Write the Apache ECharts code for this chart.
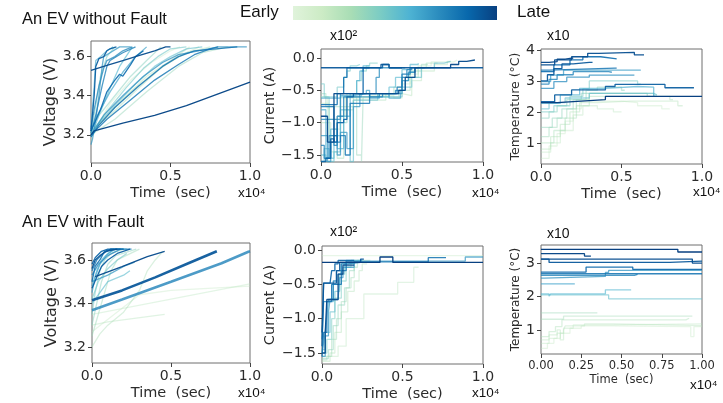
<!DOCTYPE html>
<html>
<head>
<meta charset="utf-8">
<script src="https://cdn.jsdelivr.net/npm/echarts@6/dist/echarts.min.js"></script>
<style>
html, body { margin: 0; padding: 0; background: #fff; }
#chart { width: 723px; height: 403px; }
</style>
</head>
<body>
<div id="chart"></div>
<script>
// units: time in 1e4 s, current in 1e2 A, temperature in 1e1 degC
const timeTicks = [0, 0.5, 1.0];
const timeTicksFine = [0, 0.25, 0.5, 0.75, 1.0];
const voltTicks = [3.2, 3.4, 3.6];
const currTicks = [-1.5, -1.0, -0.5, 0.0];
const tempTicks = [1, 2, 3, 4];
const tempTicksFault = [1, 2, 3];

// age of each curve: 0 = early, 1 = late
const voltNoFaultAge = [0.02, 0.06, 0.1, 0.15, 0.2, 0.25, 0.3, 0.35, 0.4, 0.45, 0.5, 0.55, 0.6, 0.62, 0.66, 0.7, 0.74, 0.78, 0.82, 0.88, 0.94, 0.97];
const voltNoFault = [
  [[0,3.17],[0.04,3.25],[0.12,3.36],[0.25,3.48],[0.38,3.57],[0.5,3.63],[0.56,3.65]],
  [[0,3.22],[0.1,3.30],[0.25,3.42],[0.4,3.52],[0.55,3.60],[0.68,3.65]],
  [[0,3.21],[0.08,3.28],[0.2,3.38],[0.35,3.50],[0.5,3.58],[0.62,3.65]],
  [[0,3.22],[0.12,3.30],[0.3,3.44],[0.45,3.55],[0.6,3.62],[0.75,3.65]],
  [[0,3.20],[0.15,3.28],[0.35,3.42],[0.55,3.55],[0.7,3.62],[0.86,3.65]],
  [[0,3.23],[0.05,3.30],[0.15,3.40],[0.25,3.50],[0.35,3.58],[0.44,3.65]],
  [[0,3.20],[0.03,3.35],[0.06,3.50],[0.1,3.60],[0.15,3.65]],
  [[0,3.21],[0.1,3.32],[0.22,3.44],[0.33,3.54],[0.42,3.60],[0.5,3.64],[0.6,3.65]],
  [[0,3.19],[0.05,3.26],[0.15,3.35],[0.28,3.46],[0.4,3.55],[0.5,3.60],[0.6,3.64],[0.7,3.65]],
  [[0,3.19],[0.05,3.30],[0.12,3.44],[0.18,3.55],[0.22,3.60],[0.26,3.65]],
  [[0,3.24],[0.02,3.45],[0.03,3.58],[0.06,3.60],[0.1,3.63],[0.14,3.65]],
  [[0,3.22],[0.04,3.30],[0.12,3.42],[0.2,3.52],[0.28,3.60],[0.35,3.65]],
  [[0,3.15],[0.01,3.18],[0.03,3.28],[0.05,3.40],[0.07,3.55],[0.08,3.60],[0.12,3.62],[0.18,3.65],[0.25,3.65]],
  [[0,3.20],[0.08,3.30],[0.2,3.40],[0.33,3.50],[0.45,3.57],[0.55,3.61],[0.62,3.62],[0.8,3.65],[0.98,3.65]],
  [[0,3.23],[0.02,3.33],[0.05,3.45],[0.08,3.54],[0.1,3.58],[0.15,3.60],[0.2,3.63],[0.26,3.65]],
  [[0,3.21],[0.03,3.30],[0.07,3.45],[0.1,3.55],[0.12,3.58],[0.2,3.62],[0.28,3.65]],
  [[0,3.20],[0.1,3.28],[0.25,3.38],[0.4,3.48],[0.55,3.56],[0.65,3.61],[0.75,3.64],[0.8,3.65]],
  [[0,3.19],[0.05,3.25],[0.15,3.34],[0.3,3.45],[0.45,3.55],[0.55,3.60],[0.65,3.63],[0.92,3.65]],
  [[0,3.22],[0.06,3.33],[0.1,3.42],[0.15,3.48],[0.18,3.51],[0.2,3.50],[0.25,3.56],[0.28,3.60],[0.33,3.63]],
  [[0,3.22],[0.02,3.40],[0.03,3.55],[0.05,3.59],[0.08,3.60],[0.1,3.63],[0.12,3.64],[0.16,3.65]],
  [[0,3.53],[0.1,3.555],[0.2,3.58],[0.3,3.605],[0.4,3.63],[0.47,3.65],[0.5,3.65]],
  [[0,3.20],[0.02,3.22],[0.2,3.26],[0.4,3.30],[0.6,3.35],[0.8,3.41],[1.0,3.47]]
];

const currNoFaultAge = [0.05, 0.1, 0.15, 0.2, 0.3, 0.35, 0.4, 0.45, 0.5, 0.55, 0.6, 0.65, 0.7, 0.75, 0.8, 0.85, 0.9, 0.95];
const currNoFault = [
  [[0,-0.6],[0.04,-0.95],[0.08,-1.1],[0.12,-0.62],[0.3,-0.58],[0.45,-0.62],[0.5,-0.4],[0.55,-0.25],[0.6,-0.12],[0.68,-0.06],[0.82,-0.03],[0.84,-0.03]],
  [[0,-0.7],[0.05,-1.3],[0.1,-0.9],[0.15,-0.6],[0.35,-0.55],[0.5,-0.58],[0.56,-0.35],[0.62,-0.2],[0.7,-0.1],[0.78,-0.05],[0.8,-0.05]],
  [[0,-1.0],[0.06,-1.45],[0.1,-1.55],[0.14,-0.8],[0.2,-0.65],[0.4,-0.6],[0.48,-0.5],[0.55,-0.3],[0.6,-0.15],[0.65,-0.08],[0.72,-0.08]],
  [[0,-0.55],[0.03,-0.75],[0.2,-0.6],[0.22,-1.5],[0.25,-1.6],[0.26,-0.6],[0.4,-0.55],[0.45,-0.45],[0.5,-0.3],[0.55,-0.2],[0.62,-0.1],[0.66,-0.1]],
  [[0,-0.6],[0.05,-1.2],[0.1,-1.0],[0.16,-0.55],[0.22,-0.35],[0.25,-0.2],[0.28,-0.12],[0.3,-0.08],[0.35,-0.08]],
  [[0,-0.4],[0.02,-0.6],[0.06,-0.6],[0.1,-0.45],[0.14,-0.3],[0.16,-0.2],[0.18,-0.12],[0.22,-0.1],[0.24,-0.1]],
  [[0,-1.5],[0.03,-1.6],[0.08,-1.45],[0.12,-0.8],[0.18,-1.6],[0.2,-0.65],[0.35,-0.6],[0.46,-0.6],[0.5,-0.45],[0.56,-0.3],[0.62,-0.15],[0.7,-0.08],[0.76,-0.05],[0.8,-0.05]],
  [[0,-1.6],[0.02,-1.4],[0.05,-1.55],[0.08,-1.2],[0.12,-0.6],[0.25,-0.55],[0.35,-0.6],[0.42,-0.45],[0.46,-0.3],[0.5,-0.18],[0.55,-0.1],[0.6,-0.08]],
  [[0,-0.8],[0.03,-1.55],[0.06,-1.1],[0.1,-1.4],[0.14,-0.9],[0.18,-0.55],[0.22,-0.35],[0.24,-0.2],[0.26,-0.12],[0.3,-0.12]],
  [[0,-0.62],[0.12,-0.58],[0.2,-0.55],[0.28,-0.5],[0.3,-0.62],[0.36,-0.55],[0.42,-0.62],[0.49,-0.5],[0.52,-0.35],[0.54,-0.22],[0.58,-0.15],[0.6,-0.15]],
  [[0,-1.2],[0.04,-1.6],[0.06,-1.3],[0.1,-1.5],[0.12,-1.15],[0.16,-1.4],[0.2,-0.75],[0.24,-0.6],[0.36,-0.55],[0.48,-0.55],[0.5,-0.35],[0.54,-0.22],[0.58,-0.15],[0.64,-0.15]],
  [[0,-0.95],[0.1,-0.95],[0.12,-0.55],[0.3,-0.55],[0.34,-0.3],[0.36,-0.15],[0.52,-0.15]],
  [[0,-1.35],[0.02,-1.55],[0.05,-1.2],[0.08,-1.35],[0.1,-0.9],[0.14,-0.6],[0.24,-0.55],[0.3,-0.6],[0.38,-0.55],[0.46,-0.5],[0.5,-0.3],[0.53,-0.18],[0.56,-0.15]],
  [[0,-0.75],[0.05,-0.75],[0.08,-1.2],[0.1,-1.3],[0.12,-1.2],[0.15,-1.5],[0.18,-0.7],[0.28,-0.7],[0.3,-0.55],[0.42,-0.55],[0.47,-0.45],[0.5,-0.25],[0.55,-0.15],[0.58,-0.15]],
  [[0,-0.72],[0.06,-0.72],[0.1,-0.55],[0.14,-0.3],[0.16,-0.15],[0.3,-0.15]],
  [[0,-1.6],[0.03,-1.55],[0.06,-1.25],[0.08,-1.3],[0.1,-1.0],[0.14,-0.95],[0.16,-0.6],[0.2,-0.55],[0.26,-0.15],[0.38,-0.1],[0.42,-0.15],[0.5,-0.15]],
  [[0,-0.15],[0.37,-0.1],[0.42,-0.15],[1.0,-0.15]],
  [[0,-0.9],[0.04,-1.3],[0.08,-0.55],[0.4,-0.55],[0.48,-0.5],[0.52,-0.3],[0.58,-0.15],[0.8,-0.1],[0.85,-0.05],[0.9,-0.03],[0.95,-0.03]]
];

const tempNoFaultAge = [0.02, 0.06, 0.1, 0.14, 0.18, 0.22, 0.26, 0.32, 0.4, 0.5, 0.58, 0.64, 0.7, 0.76, 0.82, 0.88, 0.9, 0.93, 0.96, 1.0];
const tempNoFault = [
  [[0,0.5],[0.05,0.9],[0.1,1.3],[0.15,1.7],[0.2,2.1],[0.25,2.35],[0.5,2.3],[0.6,2.2],[0.75,2.1],[0.8,2.1]],
  [[0,0.7],[0.06,1.0],[0.12,1.4],[0.2,1.9],[0.26,2.2],[0.35,2.1],[0.45,2.0],[0.5,2.0]],
  [[0,0.8],[0.06,1.2],[0.12,1.6],[0.18,2.0],[0.24,2.3],[0.35,2.35],[0.55,2.35],[0.85,2.2],[0.88,2.2]],
  [[0,1.0],[0.08,1.4],[0.15,1.8],[0.22,2.2],[0.3,2.5],[0.5,2.5],[0.8,2.4],[0.82,2.4]],
  [[0,1.2],[0.05,1.5],[0.1,1.8],[0.16,2.1],[0.22,2.4],[0.3,2.6],[0.45,2.6],[0.7,2.5],[0.72,2.5]],
  [[0,1.5],[0.07,1.8],[0.13,2.1],[0.2,2.4],[0.28,2.7],[0.35,2.8],[0.5,2.7],[0.52,2.7]],
  [[0,1.8],[0.05,2.0],[0.1,2.2],[0.16,2.4],[0.25,2.6],[0.55,2.6],[0.66,2.5],[0.68,2.5]],
  [[0,2.0],[0.08,2.2],[0.18,2.5],[0.26,2.75],[0.3,3.0],[0.5,3.0],[0.6,2.9],[0.62,2.9]],
  [[0,2.1],[0.05,2.3],[0.15,2.45],[0.3,2.6],[0.45,2.6],[0.7,2.55],[0.72,2.55]],
  [[0,2.28],[0.12,2.55],[0.24,2.76],[0.4,2.82],[0.6,2.8],[0.7,2.5],[0.72,2.5]],
  [[0,2.98],[0.06,3.19],[0.14,3.35],[0.6,3.35],[0.62,3.35]],
  [[0,2.76],[0.08,2.98],[0.16,3.12],[0.3,3.19],[0.56,3.19],[0.58,3.19]],
  [[0,2.9],[0.05,3.05],[0.1,3.2],[0.2,3.3],[0.35,3.3],[0.42,3.28],[0.44,3.28]],
  [[0,3.35],[0.05,3.41],[0.46,3.41],[0.47,3.41]],
  [[0,3.3],[0.08,3.52],[0.18,3.68],[0.26,3.78],[0.37,3.72],[0.46,3.71],[0.47,3.71]],
  [[0,2.33],[0.085,2.55],[0.19,2.71],[0.4,2.82],[0.46,2.89],[0.77,2.78],[0.95,2.78]],
  [[0,3.0],[0.04,3.2],[0.08,3.4],[0.13,3.55],[0.2,3.6],[0.3,3.6],[0.32,3.6]],
  [[0,3.52],[0.085,3.68],[0.19,3.78],[0.29,3.89],[0.36,3.92],[0.58,3.84],[0.64,3.84]],
  [[0,3.6],[0.05,3.62],[0.1,3.7],[0.15,3.74],[0.2,3.74]],
  [[0,2.3],[0.1,2.35],[0.25,2.4],[0.4,2.5],[1.0,2.5]]
];

const voltFaultAge = [0.02, 0.05, 0.08, 0.12, 0.18, 0.24, 0.3, 0.36, 0.42, 0.48, 0.54, 0.6, 0.66, 0.7, 0.74, 0.8, 0.85, 0.88, 0.9, 0.92, 0.95];
const voltFault = [
  [[0,3.27],[0.3,3.44],[0.5,3.46],[1.0,3.48]],
  [[0,3.35],[0.5,3.42],[1.0,3.49]],
  [[0,3.30],[0.1,3.315],[0.46,3.35]],
  [[0,3.20],[0.05,3.26],[0.1,3.30],[0.2,3.36],[0.3,3.46],[0.35,3.55],[0.4,3.60],[0.45,3.64]],
  [[0,3.25],[0.04,3.35],[0.08,3.45],[0.12,3.55],[0.16,3.60],[0.3,3.65]],
  [[0,3.30],[0.03,3.40],[0.06,3.50],[0.1,3.58],[0.15,3.62],[0.28,3.65]],
  [[0,3.35],[0.02,3.45],[0.05,3.55],[0.08,3.60],[0.12,3.63],[0.2,3.65]],
  [[0,3.42],[0.04,3.50],[0.1,3.56],[0.16,3.60],[0.22,3.63]],
  [[0,3.40],[0.05,3.45],[0.1,3.50],[0.2,3.53],[0.24,3.55]],
  [[0,3.48],[0.03,3.55],[0.06,3.60],[0.1,3.63],[0.15,3.65],[0.22,3.65]],
  [[0,3.45],[0.02,3.52],[0.05,3.58],[0.09,3.62],[0.14,3.65]],
  [[0,3.50],[0.1,3.53],[0.2,3.57],[0.27,3.59]],
  [[0,3.53],[0.04,3.58],[0.1,3.62],[0.18,3.65],[0.2,3.65]],
  [[0,3.369],[0.19,3.418],[0.5,3.50],[0.82,3.585],[0.99,3.638],[1.0,3.64]],
  [[0,3.55],[0.03,3.60],[0.07,3.63],[0.12,3.65],[0.25,3.65]],
  [[0,3.50],[0.02,3.57],[0.05,3.60],[0.08,3.64],[0.12,3.65],[0.2,3.65]],
  [[0,3.58],[0.02,3.61],[0.06,3.64],[0.1,3.65],[0.18,3.65]],
  [[0,3.47],[0.03,3.52],[0.06,3.57],[0.1,3.60],[0.16,3.63],[0.24,3.65]],
  [[0,3.415],[0.19,3.46],[0.4,3.52],[0.61,3.585],[0.79,3.64]],
  [[0,3.56],[0.02,3.60],[0.05,3.62],[0.09,3.64],[0.16,3.65]],
  [[0.02,3.523],[0.19,3.569],[0.35,3.615],[0.46,3.64]]
];
const voltFaultThick = [13, 18];

const currFaultAge = [0.02, 0.06, 0.1, 0.16, 0.22, 0.3, 0.4, 0.5, 0.6, 0.7, 0.78, 0.85, 0.9, 0.95, 1.0];
const currFault = [
  [[0,-0.08],[1.0,-0.08]],
  [[0,-1.55],[0.1,-1.4],[0.15,-1.0],[0.26,-0.64],[0.47,-0.47],[0.57,-0.25],[0.6,-0.25]],
  [[0,-1.62],[0.05,-1.5],[0.08,-1.2],[0.12,-0.9],[0.16,-0.6],[0.2,-0.45],[0.23,-0.3],[0.25,-0.2],[0.28,-0.2]],
  [[0,-1.6],[0.03,-1.55],[0.06,-1.3],[0.09,-1.0],[0.12,-0.75],[0.15,-0.55],[0.18,-0.4],[0.2,-0.25],[0.22,-0.15],[0.3,-0.15]],
  [[0,-1.58],[0.04,-1.45],[0.07,-1.1],[0.1,-0.8],[0.14,-0.55],[0.17,-0.3],[0.2,-0.18],[0.26,-0.18]],
  [[0,-1.5],[0.03,-1.3],[0.06,-1.0],[0.08,-0.7],[0.12,-0.45],[0.15,-0.25],[0.18,-0.15],[0.24,-0.15]],
  [[0,-1.45],[0.02,-1.2],[0.05,-0.9],[0.08,-0.6],[0.11,-0.35],[0.14,-0.2],[0.2,-0.2]],
  [[0,-1.5],[0.01,-1.35],[0.02,-1.2],[0.03,-0.95],[0.04,-0.75],[0.07,-0.5],[0.1,-0.35],[0.12,-0.2],[0.15,-0.15],[0.25,-0.15]],
  [[0,-1.55],[0.02,-1.25],[0.04,-0.9],[0.05,-0.72],[0.1,-0.72],[0.11,-0.4],[0.13,-0.25],[0.2,-0.16],[0.89,-0.1],[1.0,-0.1]],
  [[0,-1.3],[0.01,-0.75],[0.04,-0.72],[0.07,-0.45],[0.09,-0.3],[0.12,-0.2],[0.16,-0.18],[0.24,-0.18]],
  [[0,-1.55],[0.01,-1.2],[0.03,-0.75],[0.06,-0.5],[0.12,-0.3],[0.15,-0.17],[0.66,-0.11],[0.77,-0.11]],
  [[0,-1.4],[0.005,-1.0],[0.01,-0.48],[0.05,-0.48],[0.06,-0.3],[0.08,-0.2],[0.1,-0.15],[0.2,-0.15]],
  [[0,-1.2],[0.01,-0.48],[0.07,-0.48],[0.09,-0.3],[0.11,-0.18],[0.24,-0.13],[0.26,-0.13]],
  [[0,-1.5],[0.02,-1.2],[0.03,-0.72],[0.08,-0.72],[0.1,-0.35],[0.13,-0.22],[0.2,-0.22]],
  [[0,-0.18],[0.36,-0.1],[0.44,-0.18],[1.0,-0.18]]
];

const tempFaultAge = [0.02, 0.05, 0.08, 0.12, 0.15, 0.18, 0.4, 0.45, 0.55, 0.62, 0.7, 0.78, 0.84, 0.9, 0.94, 0.97, 1.0];
const tempFault = [
  [[0,0.45],[0.04,0.6],[0.08,0.75],[0.12,0.9],[0.18,1.05],[0.25,1.12],[0.45,1.1],[0.9,1.1],[0.93,0.8],[0.95,1.1],[1.0,1.1]],
  [[0,0.6],[0.05,0.75],[0.1,0.9],[0.14,1.05],[0.2,1.15],[0.45,1.18],[1.0,1.18]],
  [[0,0.7],[0.05,0.85],[0.1,1.0],[0.12,0.7],[0.14,1.0],[0.15,1.12],[0.27,1.18],[0.45,1.13],[1.0,1.13]],
  [[0,0.8],[0.05,0.95],[0.09,1.1],[0.13,1.3],[0.9,1.35],[0.92,1.35]],
  [[0,1.32],[0.14,1.41],[0.94,1.41]],
  [[0,1.51],[0.35,1.51]],
  [[0,2.05],[0.42,1.93],[1.0,1.92]],
  [[0,2.08],[0.05,2.01],[0.06,2.08],[0.4,2.2],[0.56,2.2]],
  [[0,2.38],[0.21,2.38]],
  [[0,2.55],[0.02,2.6],[0.4,2.72],[0.42,2.78],[1.0,2.78]],
  [[0,2.63],[0.58,2.66],[0.6,2.66]],
  [[0,2.68],[1.0,2.68]],
  [[0,2.73],[0.28,2.88],[0.57,2.81],[1.0,2.81]],
  [[0,3.12],[0.05,3.02],[0.8,3.06],[1.0,3.06]],
  [[0,3.12],[0.94,3.0],[1.0,3.0]],
  [[0,3.28],[0.27,3.21],[0.31,3.21]],
  [[0,3.41],[0.85,3.33],[1.0,3.33]]
];

// GnBu colour map
const gnbu = ['#f7fcf0', '#e0f3db', '#ccebc5', '#a8ddb5', '#7bccc4', '#4eb3d3', '#2b8cbe', '#0868ac', '#084081'];

function hexRgb(h) {
  return [parseInt(h.slice(1, 3), 16), parseInt(h.slice(3, 5), 16), parseInt(h.slice(5, 7), 16)];
}
function cmap(t) {
  const p = t * (gnbu.length - 1);
  const i = Math.min(Math.floor(p), gnbu.length - 2);
  const f = p - i;
  const a = hexRgb(gnbu[i]), b = hexRgb(gnbu[i + 1]);
  return 'rgb(' + a.map((v, k) => Math.round(v + (b[k] - v) * f)).join(',') + ')';
}

const tickFont = 'DejaVu Sans';
const textColor = '#2b2b2b';
const fmt = d => v => v.toFixed(d).replace('-', '\u2212');

// panel layout
const panels = [
  { lines: voltNoFault, ages: voltNoFaultAge, step: false, box: { left: 91, top: 41, width: 159, height: 122 },
    y: [3.056, 3.68], yTicks: voltTicks, yName: 'Voltage (V)', yNameSize: 16, yGap: 31, xTicks: timeTicks, small: false },
  { lines: currNoFault, ages: currNoFaultAge, step: true, box: { left: 321, top: 49, width: 162, height: 113 },
    y: [-1.608, 0.14], yTicks: currTicks, yName: 'Current (A)', yNameSize: 14, yGap: 42, xTicks: timeTicks, small: false },
  { lines: tempNoFault, ages: tempNoFaultAge, step: true, box: { left: 541, top: 49, width: 161, height: 115 },
    y: [0.32, 4.03], yTicks: tempTicks, yName: 'Temperature (\u00b0C)', yNameSize: 12.5, yGap: 18, xTicks: timeTicks, small: false },
  { lines: voltFault, ages: voltFaultAge, step: false, thick: voltFaultThick, box: { left: 92, top: 243, width: 158, height: 120 },
    y: [3.126, 3.678], yTicks: voltTicks, yName: 'Voltage (V)', yNameSize: 16, yGap: 32, xTicks: timeTicks, small: false },
  { lines: currFault, ages: currFaultAge, step: true, box: { left: 322, top: 246, width: 161, height: 118 },
    y: [-1.66, 0.06], yTicks: currTicks, yName: 'Current (A)', yNameSize: 14.5, yGap: 42, xTicks: timeTicks, small: false },
  { lines: tempFault, ages: tempFaultAge, step: true, box: { left: 541, top: 245, width: 161, height: 109 },
    y: [0.28, 3.54], yTicks: tempTicksFault, yName: 'Temperature (\u00b0C)', yNameSize: 12, yGap: 12, xTicks: timeTicksFine, small: true }
];

const grid = [], xAxis = [], yAxis = [], series = [];
panels.forEach((p, i) => {
  grid.push(Object.assign({ show: true, borderColor: '#6e6e6e', borderWidth: 1, backgroundColor: 'transparent' }, p.box));
  const fs = p.small ? 11.5 : 14;
  xAxis.push({
    type: 'value', gridIndex: i, min: 0, max: 1, position: 'bottom',
    axisLine: { show: false, onZero: false }, splitLine: { show: false },
    axisTick: { show: true, length: 4, customValues: p.xTicks, lineStyle: { color: '#444' } },
    axisLabel: { customValues: p.xTicks, formatter: fmt(p.small ? 2 : 1), fontSize: fs, fontFamily: tickFont, color: textColor, margin: 6 },
    name: 'Time  (sec)', nameLocation: 'middle', nameGap: p.small ? 20 : 23,
    nameTextStyle: { fontSize: p.small ? 11.5 : 14.5, fontFamily: tickFont, color: textColor }
  });
  yAxis.push({
    type: 'value', gridIndex: i, min: p.y[0], max: p.y[1], position: 'left',
    axisLine: { show: false, onZero: false }, splitLine: { show: false },
    axisTick: { show: true, length: 4, customValues: p.yTicks, lineStyle: { color: '#444' } },
    axisLabel: { customValues: p.yTicks, formatter: fmt(p.yTicks === currTicks || p.yTicks === voltTicks ? 1 : 0), fontSize: 14, fontFamily: tickFont, color: textColor, margin: 6 },
    name: p.yName, nameLocation: 'middle', nameGap: p.yGap,
    nameTextStyle: { fontSize: p.yNameSize, fontFamily: tickFont, color: textColor }
  });
  const order = p.lines.map((_, k) => k).sort((a, b) => p.ages[a] - p.ages[b]);
  order.forEach(k => {
    const age = p.ages[k];
    const thick = p.thick && p.thick.indexOf(k) >= 0;
    series.push({
      type: 'line', xAxisIndex: i, yAxisIndex: i,
      data: p.lines[k],
      step: p.step ? 'end' : false,
      showSymbol: false, symbol: 'none', silent: true,
      lineStyle: { color: cmap(0.28 + 0.72 * age), width: thick ? 2.6 : 1.3, opacity: 0.35 + 0.65 * age }
    });
  });
});

const labelFont = 'Liberation Sans, Arial, sans-serif';
const graphic = [
  { type: 'text', left: 22, top: 11, style: { text: 'An EV without Fault', fontSize: 16.5, fontFamily: labelFont, fill: '#111' } },
  { type: 'text', left: 22, top: 214, style: { text: 'An EV with Fault', fontSize: 16.5, fontFamily: labelFont, fill: '#111' } },
  { type: 'text', left: 240, top: 4, style: { text: 'Early', fontSize: 17, fontFamily: labelFont, fill: '#111' } },
  { type: 'text', left: 517, top: 4, style: { text: 'Late', fontSize: 17, fontFamily: labelFont, fill: '#111' } },
  { type: 'rect', shape: { x: 293, y: 6, width: 204, height: 14 },
    style: { fill: { type: 'linear', x: 0, y: 0, x2: 1, y2: 0,
      colorStops: gnbu.slice(1).map((c, k, arr) => ({ offset: k / (arr.length - 1), color: c })) } } },
  { type: 'text', left: 330, top: 29, style: { text: 'x10\u00b2', fontSize: 14, fontFamily: labelFont, fill: '#111' } },
  { type: 'text', left: 330, top: 225, style: { text: 'x10\u00b2', fontSize: 14, fontFamily: labelFont, fill: '#111' } },
  { type: 'text', left: 547, top: 29, style: { text: 'x10', fontSize: 14, fontFamily: labelFont, fill: '#111' } },
  { type: 'text', left: 547, top: 227, style: { text: 'x10', fontSize: 14, fontFamily: labelFont, fill: '#111' } },
  { type: 'text', left: 238, top: 186, style: { text: 'x10\u2074', fontSize: 13.5, fontFamily: labelFont, fill: '#111' } },
  { type: 'text', left: 472, top: 186, style: { text: 'x10\u2074', fontSize: 13.5, fontFamily: labelFont, fill: '#111' } },
  { type: 'text', left: 693, top: 185, style: { text: 'x10\u2074', fontSize: 13.5, fontFamily: labelFont, fill: '#111' } },
  { type: 'text', left: 238, top: 386, style: { text: 'x10\u2074', fontSize: 13.5, fontFamily: labelFont, fill: '#111' } },
  { type: 'text', left: 472, top: 386, style: { text: 'x10\u2074', fontSize: 13.5, fontFamily: labelFont, fill: '#111' } },
  { type: 'text', left: 690, top: 378, style: { text: 'x10\u2074', fontSize: 13.5, fontFamily: labelFont, fill: '#111' } }
];

const chart = echarts.init(document.getElementById('chart'), null, { renderer: 'canvas' });
chart.setOption({
  animation: false,
  backgroundColor: '#fff',
  grid: grid,
  xAxis: xAxis,
  yAxis: yAxis,
  series: series,
  graphic: graphic
});
</script>
</body>
</html>
